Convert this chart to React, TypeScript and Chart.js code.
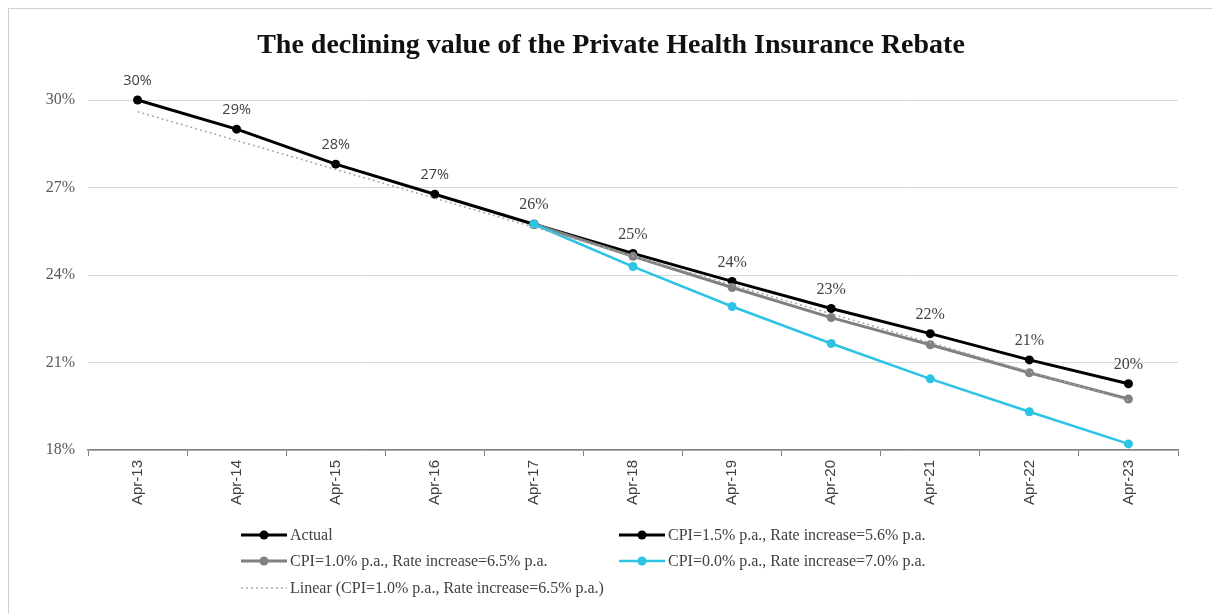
import React, { useEffect, useRef } from "react";
import { Chart, registerables } from "chart.js";

Chart.register(...registerables);

const titleText = "The declining value of the Private Health Insurance Rebate";
const categories = ["Apr-13", "Apr-14", "Apr-15", "Apr-16", "Apr-17", "Apr-18", "Apr-19", "Apr-20", "Apr-21", "Apr-22", "Apr-23"];
const actual = [30.0, 29.0, 27.8, 26.77, 25.74, null, null, null, null, null, null];
const cpi15 = [null, null, null, null, 25.74, 24.74, 23.78, 22.85, 21.99, 21.09, 20.27];
const cpi10 = [null, null, null, null, 25.74, 24.64, 23.57, 22.54, 21.61, 20.65, 19.75];
const cpi00 = [null, null, null, null, 25.74, 24.29, 22.92, 21.65, 20.44, 19.31, 18.21];
const linearTrend = [29.6, 28.61, 27.62, 26.63, 25.64, 24.65, 23.66, 22.67, 21.68, 20.69, 19.7];
const yTicks = [18, 21, 24, 27, 30];
const actualLabelIdx = [0, 1, 2, 3];
const cpi15LabelIdx = [4, 5, 6, 7, 8, 9, 10];
const seriesNames = [
  "Actual",
  "CPI=1.5% p.a., Rate increase=5.6% p.a.",
  "CPI=1.0% p.a., Rate increase=6.5% p.a.",
  "CPI=0.0% p.a., Rate increase=7.0% p.a.",
  "Linear (CPI=1.0% p.a., Rate increase=6.5% p.a.)",
];

const BLACK = "#000000";
const GREY = "#808080";
const CYAN = "#2cc3e4";
const TREND = "#a6a6a6";

const dataLabelPlugin = {
  id: "dataLabels",
  afterDatasetsDraw(chart: any) {
    const ctx = chart.ctx;
    chart.data.datasets.forEach((ds: any, i: number) => {
      if (!ds.labelIdx) return;
      const meta = chart.getDatasetMeta(i);
      ctx.save();
      ctx.font = ds.labelFont;
      ctx.fillStyle = "#404040";
      ctx.textAlign = "center";
      ctx.textBaseline = "middle";
      ds.labelIdx.forEach((idx: number) => {
        const el = meta.data[idx];
        const v = ds.data[idx];
        if (!el || v == null) return;
        ctx.fillText(Math.round(v) + "%", el.x, el.y - 19);
      });
      ctx.restore();
    });
  },
};

const decorPlugin = {
  id: "decor",
  afterDraw(chart: any) {
    const ctx = chart.ctx;
    ctx.save();
    ctx.font = "bold 28px 'Liberation Serif'";
    ctx.fillStyle = "#111111";
    ctx.textAlign = "center";
    ctx.textBaseline = "middle";
    ctx.fillText(titleText, chart.width / 2, 37);

    // legend
    const slots = [
      { ds: 0, x: 232, y: 526 },
      { ds: 1, x: 610, y: 526 },
      { ds: 2, x: 232, y: 552 },
      { ds: 3, x: 610, y: 552 },
      { ds: 4, x: 232, y: 579 },
    ];
    ctx.font = "16px 'Liberation Serif'";
    ctx.textAlign = "left";
    slots.forEach((s) => {
      const ds = chart.data.datasets[s.ds];
      ctx.save();
      ctx.strokeStyle = ds.borderColor;
      ctx.lineWidth = ds.borderWidth;
      ctx.setLineDash(ds.borderDash || []);
      ctx.beginPath();
      ctx.moveTo(s.x, s.y);
      ctx.lineTo(s.x + 46, s.y);
      ctx.stroke();
      ctx.restore();
      if (ds.pointRadius > 0) {
        ctx.beginPath();
        ctx.fillStyle = ds.pointBackgroundColor;
        ctx.arc(s.x + 23, s.y, 4.5, 0, Math.PI * 2);
        ctx.fill();
      }
      ctx.fillStyle = "#404040";
      ctx.fillText(ds.label, s.x + 49, s.y + 1);
    });
    ctx.restore();
  },
};

export default function App() {
  const ref = useRef<HTMLCanvasElement | null>(null);
  useEffect(() => {
    document.documentElement.style.overflow = "hidden";
    document.body.style.overflow = "hidden";
    if (!ref.current) return;
    const chart = new Chart(ref.current, {
      type: "line",
      data: {
        labels: categories,
        datasets: [
          {
            label: seriesNames[0],
            data: actual,
            borderColor: BLACK,
            backgroundColor: BLACK,
            pointBackgroundColor: BLACK,
            pointBorderColor: BLACK,
            borderWidth: 3,
            pointRadius: 4.5,
            pointBorderWidth: 0,
            order: 4,
            clip: false,
            labelIdx: actualLabelIdx,
            labelFont: "14.5px 'Open Sans'",
          } as any,
          {
            label: seriesNames[1],
            data: cpi15,
            borderColor: BLACK,
            backgroundColor: BLACK,
            pointBackgroundColor: BLACK,
            pointBorderColor: BLACK,
            borderWidth: 3,
            pointRadius: 4.5,
            pointBorderWidth: 0,
            order: 3,
            clip: false,
            labelIdx: cpi15LabelIdx,
            labelFont: "16px 'Liberation Serif'",
          } as any,
          {
            label: seriesNames[2],
            data: cpi10,
            borderColor: GREY,
            backgroundColor: GREY,
            pointBackgroundColor: GREY,
            pointBorderColor: GREY,
            borderWidth: 3,
            pointRadius: 4.5,
            pointBorderWidth: 0,
            order: 2,
            clip: false,
          } as any,
          {
            label: seriesNames[3],
            data: cpi00,
            borderColor: CYAN,
            backgroundColor: CYAN,
            pointBackgroundColor: CYAN,
            pointBorderColor: CYAN,
            borderWidth: 2.5,
            pointRadius: 4.5,
            pointBorderWidth: 0,
            order: 1,
            clip: false,
          } as any,
          {
            label: seriesNames[4],
            data: linearTrend,
            borderColor: TREND,
            backgroundColor: TREND,
            borderWidth: 1.5,
            borderDash: [2, 3],
            pointRadius: 0,
            order: 0,
            clip: false,
          } as any,
        ],
      },
      options: {
        animation: false,
        responsive: false,
        maintainAspectRatio: false,
        layout: { padding: { top: 91, left: 0, right: 35, bottom: 0 } },
        plugins: {
          legend: { display: false },
          title: { display: false },
          tooltip: { enabled: false },
        },
        scales: {
          x: {
            offset: true,
            grid: {
              display: true,
              offset: true,
              drawOnChartArea: false,
              drawTicks: true,
              tickLength: 6,
              color: "#808080",
            },
            border: { display: true, color: "#808080", width: 1.5 },
            ticks: {
              minRotation: 90,
              maxRotation: 90,
              padding: 4,
              color: "#404040",
              font: { family: "'Liberation Sans'", size: 15 },
            },
            afterFit: (scale: any) => {
              scale.height = 165;
            },
          },
          y: {
            min: 18,
            max: 30,
            afterBuildTicks: (scale: any) => {
              scale.ticks = yTicks.map((v) => ({ value: v }));
            },
            grid: { color: "#d9d9d9", lineWidth: 1, drawTicks: false },
            border: { display: false },
            ticks: {
              padding: 13,
              color: "#595959",
              font: { family: "'Liberation Serif'", size: 16 },
              callback: (v: any) => v + "%",
            },
            afterFit: (scale: any) => {
              scale.width = 79;
            },
          },
        },
      },
      plugins: [dataLabelPlugin, decorPlugin],
    } as any);
    return () => chart.destroy();
  }, []);

  return (
    <div
      style={{
        position: "relative",
        width: 1204,
        height: 606,
        border: "1px solid #cfcfcf",
        boxShadow: "0 0 3px rgba(0,0,0,0.35), 2px 2px 3px rgba(0,0,0,0.35)",
        background: "#ffffff",
      }}
    >
      <canvas ref={ref} width={1204} height={606} style={{ display: "block", width: 1204, height: 606 }} />
    </div>
  );
}
